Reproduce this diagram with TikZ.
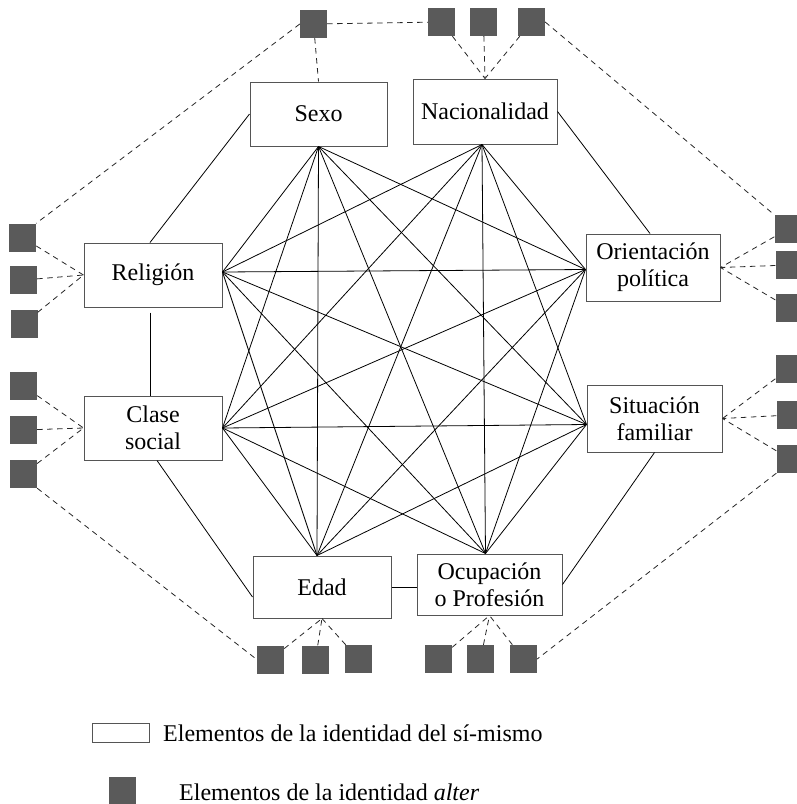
\documentclass[tikz,border=0pt]{standalone}
\usepackage{fontspec}
\setmainfont{Liberation Serif}
\definecolor{altgray}{RGB}{90,90,90}
\definecolor{boxline}{RGB}{85,85,85}
\begin{document}
\begin{tikzpicture}[x=1pt,y=-1pt,
  box/.style={draw=boxline, line width=1pt, fill=white, inner sep=0pt, align=center, font=\fontsize{24}{27}\selectfont},
  alt/.style={fill=altgray, draw=none, minimum width=27pt, minimum height=28pt, inner sep=0pt},
  dsh/.style={dash pattern=on 5.5pt off 4.5pt, line width=0.8pt, draw=black!85},
  tie/.style={line width=0.8pt},
  lab/.style={anchor=west, inner sep=0pt, font=\fontsize{24}{27}\selectfont}]
\useasboundingbox (0,0) rectangle (797,804);
\clip (0,0) rectangle (797,804);
% self-identity boxes
\node[box, minimum width=137pt, minimum height=64pt] (Sexo) at (318.5,114) {Sexo};
\node[box, minimum width=144pt, minimum height=65pt] (Nac) at (485,111.5) {Nacionalidad};
\node[box, minimum width=138pt, minimum height=64pt] (Rel) at (153,275) {Religión};
\node[box, minimum width=138pt, minimum height=64pt] (Clase) at (153,428) {Clase\\social};
\node[box, minimum width=134pt, minimum height=67pt] (Ori) at (653,267.5) {Orientación\\política};
\node[box, minimum width=135pt, minimum height=67pt] (Sit) at (654.5,418.5) {Situación\\familiar};
\node[box, minimum width=138pt, minimum height=62pt] (Edad) at (322,587) {Edad};
\node[box, minimum width=145pt, minimum height=61pt] (Ocu) at (489.5,584.5) {Ocupación\\o Profesión};
% alter squares
\node[alt] (sS) at (313.5,24) {};
\node[alt] (sN1) at (441.5,22) {};
\node[alt] (sN2) at (483.5,22) {};
\node[alt] (sN3) at (531.5,22) {};
\node[alt] (sR1) at (22.5,237.5) {};
\node[alt] (sR2) at (23.5,280) {};
\node[alt] (sR3) at (24,323.5) {};
\node[alt] (sC1) at (23.5,386) {};
\node[alt] (sC2) at (23.5,430) {};
\node[alt] (sC3) at (23.5,474) {};
\node[alt] (sO1) at (788,229) {};
\node[alt] (sO2) at (789,265) {};
\node[alt] (sO3) at (789,308) {};
\node[alt] (sF1) at (789,368.5) {};
\node[alt] (sF2) at (790,415) {};
\node[alt] (sF3) at (790,459) {};
\node[alt] (sE1) at (270.5,659.5) {};
\node[alt] (sE2) at (315.5,659.5) {};
\node[alt] (sE3) at (358.5,659) {};
\node[alt] (sP1) at (438.5,659) {};
\node[alt] (sP2) at (480.5,659) {};
\node[alt] (sP3) at (523.5,659) {};
% hubs of the inner net
\coordinate (hS) at (Sexo.south);
\coordinate (hN) at ([xshift=-3pt]Nac.south);
\coordinate (hR) at ([yshift=3pt]Rel.east);
\coordinate (hC) at (Clase.east);
\coordinate (hO) at ([yshift=-2pt]Ori.west);
\coordinate (hF) at ([yshift=-6pt]Sit.west);
\coordinate (hE) at ([xshift=-5pt]Edad.north);
\coordinate (hP) at ([xshift=-4pt]Ocu.north);
\foreach \a/\b in {hS/hR,hS/hC,hS/hO,hS/hF,hS/hE,hS/hP,
                   hN/hR,hN/hC,hN/hO,hN/hF,hN/hE,hN/hP,
                   hR/hO,hR/hF,hR/hE,hR/hP,
                   hC/hO,hC/hF,hC/hE,hC/hP,
                   hO/hE,hO/hP,hF/hE,hF/hP}
  \draw[tie] (\a) -- (\b);
% outer solid links
\draw[tie] (Sexo.west) -- ([xshift=-3pt]Rel.north);
\draw[tie] (Nac.east) -- ([xshift=-3pt]Ori.north);
\draw[tie] ([xshift=-3pt,yshift=-5pt]Rel.south) -- ([xshift=-3pt]Clase.north);
\draw[tie] ([xshift=4pt]Clase.south) -- ([yshift=-10pt]Edad.west);
\draw[tie] (Edad.east) -- (Edad.east -| Ocu.west);
\draw[tie] (Ocu.east) -- (Sit.south);
% dashed links to alter
\draw[dsh] (sS) -- (Sexo.north);
\draw[dsh] (sS) -- (sN1);
\draw[dsh] (sS.west) -- (sR1.north east);
\foreach \s in {sN1,sN2,sN3} \draw[dsh] (\s) -- (Nac.north);
\draw[dsh] (sN3.east) -- (sO1.north west);
\foreach \s in {sR1,sR2,sR3} \draw[dsh] (\s) -- (Rel.west);
\foreach \s in {sC1,sC2,sC3} \draw[dsh] (\s) -- (Clase.west);
\draw[dsh] (sC3.south east) -- (sE1.west);
\foreach \s in {sO1,sO2,sO3} \draw[dsh] (\s) -- (Ori.east);
\foreach \s in {sF1,sF2,sF3} \draw[dsh] (\s) -- (Sit.east);
\draw[dsh] (sF3.south west) -- (sP3.east);
\foreach \s in {sE1,sE2,sE3} \draw[dsh] (\s) -- (Edad.south);
\foreach \s in {sP1,sP2,sP3} \draw[dsh] (\s) -- (Ocu.south);
% legend
\node[box, minimum width=57pt, minimum height=19pt] (legSelf) at (120.5,732.5) {};
\node[lab] (legSelfT) at (163,733) {Elementos de la identidad del sí-mismo};
\node[alt] (legAlt) at (122.5,791) {};
\node[lab] (legAltT) at (179,792) {Elementos de la identidad \textit{alter}};
\end{tikzpicture}
\end{document}
